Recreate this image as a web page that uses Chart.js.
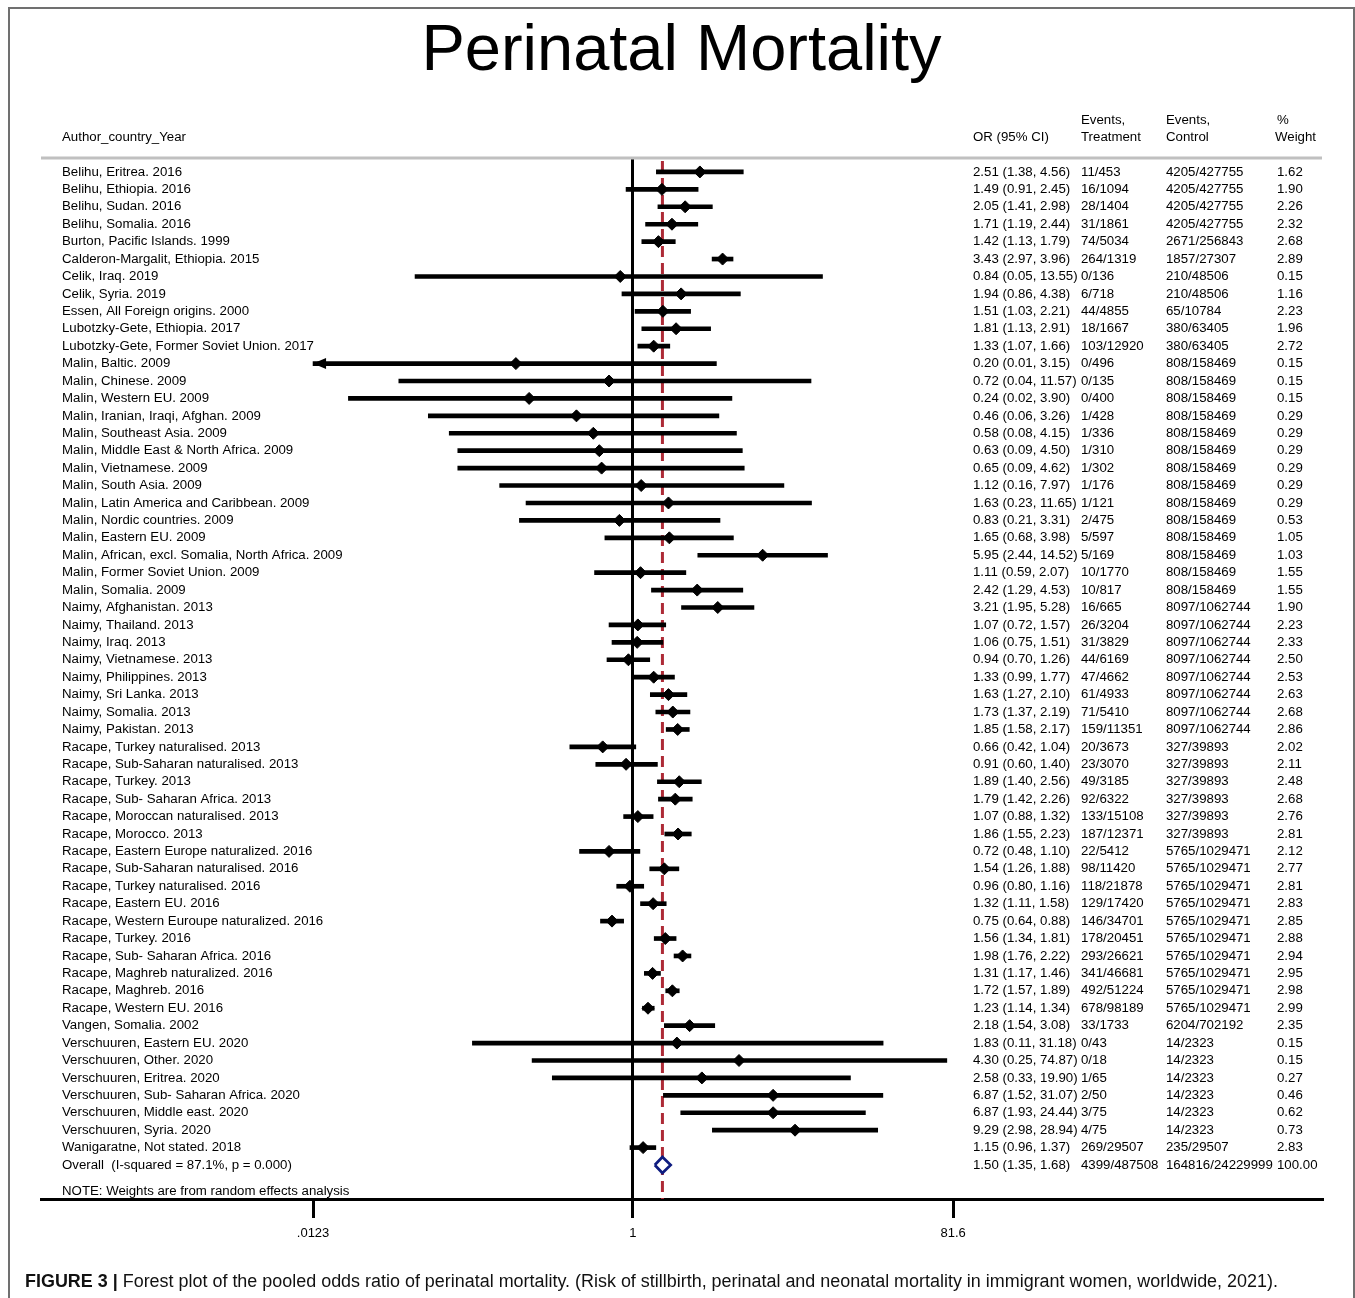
<!DOCTYPE html>
<html>
<head>
<meta charset="utf-8">
<title>Perinatal Mortality</title>
<script src="https://cdn.jsdelivr.net/npm/chart.js"></script>
<style>
  html, body { margin: 0; padding: 0; background: #fff; overflow: hidden; }
  #page { position: relative; width: 1355px; height: 1298px; }
  #frame { position: absolute; left: 8px; top: 7px; width: 1347px; height: 1320px; box-sizing: border-box; border: 2px solid #707070; }
  #chart { position: absolute; left: 0; top: 0; width: 1355px; height: 1298px; }
  #caption { position: absolute; left: 25px; top: 1271px; font-family: "Liberation Sans", Arial, sans-serif; font-size: 17.94px; color: #111; white-space: nowrap; }
  #caption b { font-weight: bold; }
</style>
</head>
<body>
<div id="page">
  <div id="frame"></div>
  <canvas id="chart" width="1355" height="1298"></canvas>
  <div id="caption"><b>FIGURE 3 |</b> Forest plot of the pooled odds ratio of perinatal mortality. (Risk of stillbirth, perinatal and neonatal mortality in immigrant women, worldwide, 2021).</div>
</div>
<script>
// ---- Study rows -------------------------------------------------------
const STUDIES = [
  'Belihu, Eritrea. 2016',
  'Belihu, Ethiopia. 2016',
  'Belihu, Sudan. 2016',
  'Belihu, Somalia. 2016',
  'Burton, Pacific Islands. 1999',
  'Calderon-Margalit, Ethiopia. 2015',
  'Celik, Iraq. 2019',
  'Celik, Syria. 2019',
  'Essen, All Foreign origins. 2000',
  'Lubotzky-Gete, Ethiopia. 2017',
  'Lubotzky-Gete, Former Soviet Union. 2017',
  'Malin, Baltic. 2009',
  'Malin, Chinese. 2009',
  'Malin, Western EU. 2009',
  'Malin, Iranian, Iraqi, Afghan. 2009',
  'Malin, Southeast Asia. 2009',
  'Malin, Middle East & North Africa. 2009',
  'Malin, Vietnamese. 2009',
  'Malin, South Asia. 2009',
  'Malin, Latin America and Caribbean. 2009',
  'Malin, Nordic countries. 2009',
  'Malin, Eastern EU. 2009',
  'Malin, African, excl. Somalia, North Africa. 2009',
  'Malin, Former Soviet Union. 2009',
  'Malin, Somalia. 2009',
  'Naimy, Afghanistan. 2013',
  'Naimy, Thailand. 2013',
  'Naimy, Iraq. 2013',
  'Naimy, Vietnamese. 2013',
  'Naimy, Philippines. 2013',
  'Naimy, Sri Lanka. 2013',
  'Naimy, Somalia. 2013',
  'Naimy, Pakistan. 2013',
  'Racape, Turkey naturalised. 2013',
  'Racape, Sub-Saharan naturalised. 2013',
  'Racape, Turkey. 2013',
  'Racape, Sub- Saharan Africa. 2013',
  'Racape, Moroccan naturalised. 2013',
  'Racape, Morocco. 2013',
  'Racape, Eastern Europe naturalized. 2016',
  'Racape, Sub-Saharan naturalised. 2016',
  'Racape, Turkey naturalised. 2016',
  'Racape, Eastern EU. 2016',
  'Racape, Western Euroupe naturalized. 2016',
  'Racape, Turkey. 2016',
  'Racape, Sub- Saharan Africa. 2016',
  'Racape, Maghreb naturalized. 2016',
  'Racape, Maghreb. 2016',
  'Racape, Western EU. 2016',
  'Vangen, Somalia. 2002',
  'Verschuuren, Eastern EU. 2020',
  'Verschuuren, Other. 2020',
  'Verschuuren, Eritrea. 2020',
  'Verschuuren, Sub- Saharan Africa. 2020',
  'Verschuuren, Middle east. 2020',
  'Verschuuren, Syria. 2020',
  'Wanigaratne, Not stated. 2018'
];

const OR = [
  2.51, 1.49, 2.05, 1.71, 1.42, 3.43, 0.84, 1.94, 1.51, 1.81,
  1.33, 0.20, 0.72, 0.24, 0.46, 0.58, 0.63, 0.65, 1.12, 1.63,
  0.83, 1.65, 5.95, 1.11, 2.42, 3.21, 1.07, 1.06, 0.94, 1.33,
  1.63, 1.73, 1.85, 0.66, 0.91, 1.89, 1.79, 1.07, 1.86, 0.72,
  1.54, 0.96, 1.32, 0.75, 1.56, 1.98, 1.31, 1.72, 1.23, 2.18,
  1.83, 4.30, 2.58, 6.87, 6.87, 9.29, 1.15
];

const CI_LOW = [
  1.38, 0.91, 1.41, 1.19, 1.13, 2.97, 0.05, 0.86, 1.03, 1.13,
  1.07, 0.01, 0.04, 0.02, 0.06, 0.08, 0.09, 0.09, 0.16, 0.23,
  0.21, 0.68, 2.44, 0.59, 1.29, 1.95, 0.72, 0.75, 0.70, 0.99,
  1.27, 1.37, 1.58, 0.42, 0.60, 1.40, 1.42, 0.88, 1.55, 0.48,
  1.26, 0.80, 1.11, 0.64, 1.34, 1.76, 1.17, 1.57, 1.14, 1.54,
  0.11, 0.25, 0.33, 1.52, 1.93, 2.98, 0.96
];

const CI_HIGH = [
  4.56, 2.45, 2.98, 2.44, 1.79, 3.96, 13.55, 4.38, 2.21, 2.91,
  1.66, 3.15, 11.57, 3.90, 3.26, 4.15, 4.50, 4.62, 7.97, 11.65,
  3.31, 3.98, 14.52, 2.07, 4.53, 5.28, 1.57, 1.51, 1.26, 1.77,
  2.10, 2.19, 2.17, 1.04, 1.40, 2.56, 2.26, 1.32, 2.23, 1.10,
  1.88, 1.16, 1.58, 0.88, 1.81, 2.22, 1.46, 1.89, 1.34, 3.08,
  31.18, 74.87, 19.90, 31.07, 24.44, 28.94, 1.37
];

const EVENTS_TREATMENT = [
  '11/453', '16/1094', '28/1404', '31/1861', '74/5034', '264/1319', '0/136', '6/718', '44/4855', '18/1667',
  '103/12920', '0/496', '0/135', '0/400', '1/428', '1/336', '1/310', '1/302', '1/176', '1/121',
  '2/475', '5/597', '5/169', '10/1770', '10/817', '16/665', '26/3204', '31/3829', '44/6169', '47/4662',
  '61/4933', '71/5410', '159/11351', '20/3673', '23/3070', '49/3185', '92/6322', '133/15108', '187/12371', '22/5412',
  '98/11420', '118/21878', '129/17420', '146/34701', '178/20451', '293/26621', '341/46681', '492/51224', '678/98189', '33/1733',
  '0/43', '0/18', '1/65', '2/50', '3/75', '4/75', '269/29507'
];

const EVENTS_CONTROL = [
  '4205/427755', '4205/427755', '4205/427755', '4205/427755', '2671/256843', '1857/27307', '210/48506', '210/48506', '65/10784', '380/63405',
  '380/63405', '808/158469', '808/158469', '808/158469', '808/158469', '808/158469', '808/158469', '808/158469', '808/158469', '808/158469',
  '808/158469', '808/158469', '808/158469', '808/158469', '808/158469', '8097/1062744', '8097/1062744', '8097/1062744', '8097/1062744', '8097/1062744',
  '8097/1062744', '8097/1062744', '8097/1062744', '327/39893', '327/39893', '327/39893', '327/39893', '327/39893', '327/39893', '5765/1029471',
  '5765/1029471', '5765/1029471', '5765/1029471', '5765/1029471', '5765/1029471', '5765/1029471', '5765/1029471', '5765/1029471', '5765/1029471', '6204/702192',
  '14/2323', '14/2323', '14/2323', '14/2323', '14/2323', '14/2323', '235/29507'
];

const WEIGHT = [
  1.62, 1.90, 2.26, 2.32, 2.68, 2.89, 0.15, 1.16, 2.23, 1.96,
  2.72, 0.15, 0.15, 0.15, 0.29, 0.29, 0.29, 0.29, 0.29, 0.29,
  0.53, 1.05, 1.03, 1.55, 1.55, 1.90, 2.23, 2.33, 2.50, 2.53,
  2.63, 2.68, 2.86, 2.02, 2.11, 2.48, 2.68, 2.76, 2.81, 2.12,
  2.77, 2.81, 2.83, 2.85, 2.88, 2.94, 2.95, 2.98, 2.99, 2.35,
  0.15, 0.15, 0.27, 0.46, 0.62, 0.73, 2.83
];

// ---- Pooled estimate --------------------------------------------------
const OVERALL_LABEL = 'Overall  (I-squared = 87.1%, p = 0.000)';
const OVERALL_OR = 1.50;
const OVERALL_LOW = 1.35;
const OVERALL_HIGH = 1.68;
const OVERALL_EVENTS_TREATMENT = '4399/487508';
const OVERALL_EVENTS_CONTROL = '164816/24229999';
const OVERALL_WEIGHT = 100.00;

// ---- Axis ticks -------------------------------------------------------
const TICK_VALUES = [0.0123, 1, 81.6];
const TICK_LABELS = ['.0123', '1', '81.6'];

// ---- Layout constants -------------------------------------------------
const FONT = '"Liberation Sans", Arial, Helvetica, sans-serif';
const TEXT_SIZE = 13.25;
const X_MIN = 2.92e-4;          // log axis bounds of the plotting band
const X_MAX = 1.302e4;
const Y_MIN = -0.8;             // row units, first row = 0
const Y_MAX = 58.95;
const DIAMOND_HALF = 0.46;      // half height of the pooled diamond, in rows
const COLS = { label: 62, or: 973, evT: 1081, evC: 1166, wt: 1277 };

const nRows = STUDIES.length;           // pooled row sits right after the studies
const fmt2 = v => v.toFixed(2);
const orText = (o, l, h) => `${fmt2(o)} (${fmt2(l)}, ${fmt2(h)})`;

// table text, header rule and clipped-interval arrows
const forestTable = {
  id: 'forestTable',
  beforeDatasetsDraw(chart) {
    const { ctx, chartArea } = chart;
    ctx.save();
    ctx.strokeStyle = '#c0c0c0';
    ctx.lineWidth = 3;
    ctx.beginPath();
    ctx.moveTo(chartArea.left, chartArea.top);
    ctx.lineTo(chartArea.right, chartArea.top);
    ctx.stroke();
    ctx.restore();
  },
  afterDatasetsDraw(chart) {
    const { ctx } = chart;
    const xs = chart.scales.x, ys = chart.scales.y;
    const lo = TICK_VALUES[0], hi = TICK_VALUES[TICK_VALUES.length - 1];
    ctx.save();
    ctx.fillStyle = '#000';
    STUDIES.forEach((_, i) => {
      const py = ys.getPixelForValue(i);
      if (CI_LOW[i] < lo) {
        const px = xs.getPixelForValue(lo);
        ctx.beginPath();
        ctx.moveTo(px, py);
        ctx.lineTo(px + 13, py - 5.5);
        ctx.lineTo(px + 13, py + 5.5);
        ctx.closePath();
        ctx.fill();
      }
      if (CI_HIGH[i] > hi) {
        const px = xs.getPixelForValue(hi);
        ctx.beginPath();
        ctx.moveTo(px, py);
        ctx.lineTo(px - 13, py - 5.5);
        ctx.lineTo(px - 13, py + 5.5);
        ctx.closePath();
        ctx.fill();
      }
    });
    ctx.restore();
  },
  afterDraw(chart) {
    const { ctx, chartArea } = chart;
    const ys = chart.scales.y;
    ctx.save();
    ctx.font = `${TEXT_SIZE}px ${FONT}`;
    ctx.fillStyle = '#000';
    ctx.textAlign = 'left';
    ctx.textBaseline = 'middle';

    const h1 = chartArea.top - 38, h2 = chartArea.top - 21;
    ctx.fillText('Author_country_Year', COLS.label, h2);
    ctx.fillText('OR (95% CI)', COLS.or, h2);
    ctx.fillText('Events,', COLS.evT, h1);
    ctx.fillText('Treatment', COLS.evT, h2);
    ctx.fillText('Events,', COLS.evC, h1);
    ctx.fillText('Control', COLS.evC, h2);
    ctx.fillText('%', COLS.wt, h1);
    ctx.fillText('Weight', COLS.wt - 2, h2);

    STUDIES.forEach((name, i) => {
      const py = ys.getPixelForValue(i);
      ctx.fillText(name, COLS.label, py);
      ctx.fillText(orText(OR[i], CI_LOW[i], CI_HIGH[i]), COLS.or, py);
      ctx.fillText(EVENTS_TREATMENT[i], COLS.evT, py);
      ctx.fillText(EVENTS_CONTROL[i], COLS.evC, py);
      ctx.fillText(fmt2(WEIGHT[i]), COLS.wt, py);
    });

    const po = ys.getPixelForValue(nRows);
    ctx.fillText(OVERALL_LABEL, COLS.label, po);
    ctx.fillText(orText(OVERALL_OR, OVERALL_LOW, OVERALL_HIGH), COLS.or, po);
    ctx.fillText(OVERALL_EVENTS_TREATMENT, COLS.evT, po);
    ctx.fillText(OVERALL_EVENTS_CONTROL, COLS.evC, po);
    ctx.fillText(fmt2(OVERALL_WEIGHT), COLS.wt, po);

    ctx.fillText('NOTE: Weights are from random effects analysis', COLS.label, chartArea.bottom - 8);
    ctx.restore();
  }
};

const ciBars = STUDIES.map((_, i) => ({
  y: i,
  x: [Math.max(CI_LOW[i], TICK_VALUES[0]), Math.min(CI_HIGH[i], TICK_VALUES[TICK_VALUES.length - 1])]
}));
const estimates = OR.map((v, i) => ({ x: v, y: i }));
const pooledDiamond = [
  { x: OVERALL_LOW, y: nRows },
  { x: OVERALL_OR, y: nRows - DIAMOND_HALF },
  { x: OVERALL_HIGH, y: nRows },
  { x: OVERALL_OR, y: nRows + DIAMOND_HALF },
  { x: OVERALL_LOW, y: nRows }
];

new Chart(document.getElementById('chart'), {
  type: 'scatter',
  data: {
    datasets: [
      {
        type: 'line',
        label: 'Pooled OR',
        data: [{ x: OVERALL_OR, y: Y_MIN }, { x: OVERALL_OR, y: Y_MAX }],
        borderColor: '#ad2a36',
        borderWidth: 3,
        borderDash: [11, 6],
        borderDashOffset: -3,
        pointRadius: 0,
        fill: false,
        order: 3
      },
      {
        type: 'bar',
        label: '95% CI',
        indexAxis: 'y',
        data: ciBars,
        backgroundColor: '#000',
        borderWidth: 0,
        barThickness: 4,
        grouped: false,
        order: 2
      },
      {
        type: 'scatter',
        label: 'OR',
        data: estimates,
        pointStyle: 'rectRot',
        pointRadius: 6,
        pointBorderWidth: 1,
        pointBackgroundColor: '#000',
        pointBorderColor: '#000',
        order: 1
      },
      {
        type: 'line',
        label: 'Overall',
        data: pooledDiamond,
        borderColor: '#0e1c80',
        borderWidth: 2.7,
        backgroundColor: '#ffffff',
        fill: 'shape',
        pointRadius: 0,
        tension: 0,
        order: 0
      }
    ]
  },
  options: {
    responsive: false,
    devicePixelRatio: 1,
    animation: false,
    events: [],
    layout: { padding: { left: 41, right: 33, top: 0, bottom: 54 } },
    plugins: {
      legend: { display: false },
      tooltip: { enabled: false },
      title: {
        display: true,
        text: 'Perinatal Mortality',
        color: '#000',
        font: { family: FONT, size: 65, weight: 'normal', lineHeight: 1.2 },
        padding: { top: 13, bottom: 67 }
      }
    },
    scales: {
      x: {
        type: 'logarithmic',
        min: X_MIN,
        max: X_MAX,
        offset: false,
        afterBuildTicks: s => { s.ticks = TICK_VALUES.map(v => ({ value: v })); },
        afterFit: s => { s.height = 45; },
        ticks: {
          autoSkip: false,
          maxRotation: 0,
          padding: 8,
          color: '#000',
          font: { family: FONT, size: 13 },
          callback: (v, i) => TICK_LABELS[i]
        },
        grid: {
          offset: false,
          drawOnChartArea: true,
          color: c => (c.tick && c.tick.value === 1 ? '#000' : 'rgba(0,0,0,0)'),
          lineWidth: 3,
          tickColor: '#000',
          tickWidth: 3,
          tickLength: 19
        },
        border: { display: true, color: '#000', width: 3 }
      },
      y: {
        type: 'linear',
        reverse: true,
        min: Y_MIN,
        max: Y_MAX,
        offset: false,
        display: false,
        grid: { offset: false }
      }
    }
  },
  plugins: [forestTable]
});
</script>
</body>
</html>
